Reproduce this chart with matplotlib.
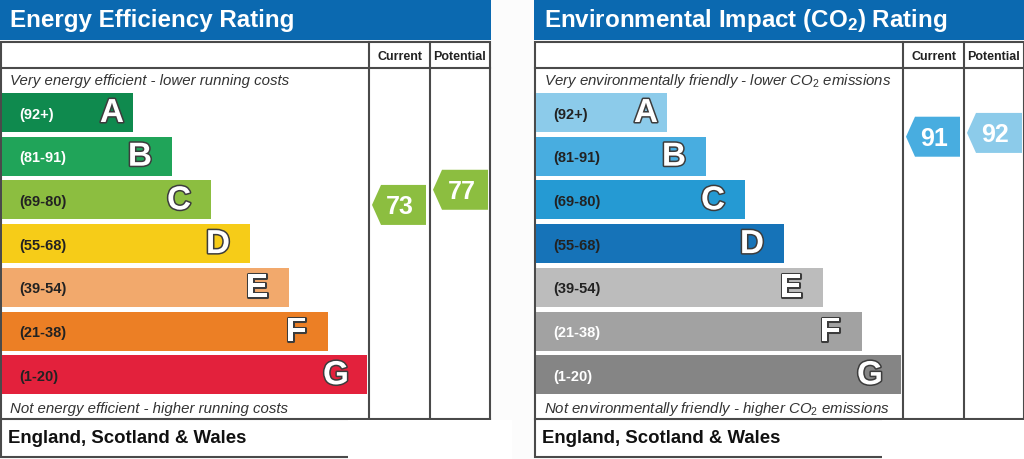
import matplotlib
matplotlib.use("Agg")
import matplotlib.pyplot as plt
import matplotlib.patheffects as pe
from matplotlib.patches import Rectangle, Polygon

plt.rcParams["mathtext.fontset"] = "custom"
plt.rcParams["mathtext.rm"] = "Liberation Sans"
plt.rcParams["mathtext.it"] = "Liberation Sans:italic"
plt.rcParams["mathtext.bf"] = "Liberation Sans:bold"

# ---------------------------------------------------------------------------
# data
# ---------------------------------------------------------------------------
bands = ["A", "B", "C", "D", "E", "F", "G"]
band_ranges = ["(92+)", "(81-91)", "(69-80)", "(55-68)", "(39-54)", "(21-38)", "(1-20)"]
band_lower = [92, 81, 69, 55, 39, 21, 1]

ee_title = "Energy Efficiency Rating"
ee_top = "Very energy efficient - lower running costs"
ee_bottom = "Not energy efficient - higher running costs"
ee_current = 73
ee_potential = 77

ei_title = r"Environmental Impact (CO$_{\mathbf{2}}$) Rating"
ei_top = r"Very environmentally friendly - lower CO$_{\mathrm{2}}$ emissions"
ei_bottom = r"Not environmentally friendly - higher CO$_{\mathrm{2}}$ emissions"
ei_current = 91
ei_potential = 92

region = "England, Scotland & Wales"

# ---------------------------------------------------------------------------
# styles
# ---------------------------------------------------------------------------
EE_COLORS = ["#0f8a4e", "#20a459", "#8cbe40", "#f6cc18", "#f2a96c", "#ec7f25", "#e3213c"]
EE_RANGE_TXT = ["white", "white", "#222", "#222", "#222", "#222", "#222"]
EI_COLORS = ["#8ccbea", "#48ade0", "#259ad3", "#1673b8", "#bcbcbc", "#a2a2a2", "#858585"]
EI_RANGE_TXT = ["#222", "#222", "#222", "#222", "#222", "white", "white"]
HEADER_BLUE = "#0b69b0"
FRAME = "#4a4a4a"
FONT = ["Liberation Sans", "DejaVu Sans"]

# layout (pixels, panel-relative)
PANEL_W = 490
COL1, COL2 = 369, 430
BAR_TOP0, BAR_PITCH, BAR_H = 94, 43.7, 39
BAR_LEN0, BAR_STEP = 131, 39
LETTER_PAD = [21, 32, 32, 32, 32, 32, 31]


def rating_y(r):
    # vertical scale of the rating arrows
    return 482.6 - 3.79 * r


def band_of(r):
    for i, lo in enumerate(band_lower):
        if r >= lo:
            return i
    return len(bands) - 1


def arrow(ax, x0, x1, yc, value, color):
    h = 40
    tip = 9
    pts = [(x1, yc - h / 2), (x0 + tip, yc - h / 2), (x0, yc),
           (x0 + tip, yc + h / 2), (x1, yc + h / 2)]
    ax.add_patch(Polygon(pts, closed=True, facecolor=color, edgecolor="none", zorder=4))
    ax.text((x0 + x1) / 2 + 1, yc + 1, str(value), color="white", fontsize=18,
            fontweight="bold", family=FONT, ha="center", va="center", zorder=5)


def draw_panel(ax, x0, title, top, bottom, colors, range_txt, current, potential):
    # header
    ax.add_patch(Rectangle((x0, 0), 1024 - x0 if x0 > 0 else 491, 41,
                           facecolor=HEADER_BLUE, edgecolor="none"))
    ax.text(x0 + 10, 21, title, color="white", fontsize=17.4, fontweight="bold",
            family=FONT, ha="left", va="center")

    # frame
    lw = 1.5
    ax.add_patch(Rectangle((x0 + 1, 43), PANEL_W - 1, 415, facecolor="white",
                           edgecolor=FRAME, lw=lw, zorder=1))
    ax.plot([x0 + 1, x0 + PANEL_W], [69, 69], color=FRAME, lw=lw, zorder=2)
    ax.plot([x0 + 1, x0 + PANEL_W], [420, 420], color=FRAME, lw=lw, zorder=2)
    for cx in (COL1, COL2):
        ax.plot([x0 + cx, x0 + cx], [43, 420], color=FRAME, lw=lw, zorder=2)

    ax.text(x0 + (COL1 + COL2) / 2, 57, "Current", fontsize=9, fontweight="bold",
            family=FONT, color="#222", ha="center", va="center")
    ax.text(x0 + (COL2 + PANEL_W) / 2, 57, "Potential", fontsize=9, fontweight="bold",
            family=FONT, color="#222", ha="center", va="center")

    ax.text(x0 + 10, 81, top, fontsize=10.8, style="italic", family=FONT,
            color="#333", ha="left", va="center")
    ax.text(x0 + 10, 409, bottom, fontsize=10.8, style="italic", family=FONT,
            color="#333", ha="left", va="center")

    # bands
    for i, (b, rng) in enumerate(zip(bands, band_ranges)):
        y = BAR_TOP0 + i * BAR_PITCH
        length = BAR_LEN0 + i * BAR_STEP
        ax.add_patch(Rectangle((x0 + 2, y), length, BAR_H, facecolor=colors[i],
                               edgecolor="none", zorder=3))
        ax.text(x0 + 19, y + BAR_H / 2 + 1, rng, fontsize=10.5, fontweight="bold",
                family=FONT, color=range_txt[i], ha="left", va="center", zorder=4)
        ax.text(x0 + 2 + length - LETTER_PAD[i], y + BAR_H / 2 + 1, b, fontsize=24,
                fontweight="bold", family=FONT, color="white", ha="center",
                va="center", zorder=4,
                path_effects=[pe.withStroke(linewidth=2.2, foreground="#3c3c3c")])

    # rating arrows
    arrow(ax, x0 + COL1 + 3, x0 + COL2 - 4, rating_y(current), current,
          colors[band_of(current)])
    arrow(ax, x0 + COL2 + 3, x0 + PANEL_W - 2, rating_y(potential), potential,
          colors[band_of(potential)])

    # footer
    ax.text(x0 + 8, 439, region, fontsize=13.4, fontweight="bold", family=FONT,
            color="#111", ha="left", va="center", zorder=3)
    ax.add_patch(Rectangle((x0 + 348, 421), 164, 40, facecolor="white",
                           edgecolor="none", zorder=6))


fig = plt.figure(figsize=(10.24, 4.6), dpi=100)
fig.patch.set_facecolor("#fcfcfc")
ax = fig.add_axes([0, 0, 1, 1])
ax.set_xlim(0, 1024)
ax.set_ylim(460, 0)
ax.axis("off")

draw_panel(ax, 0, ee_title, ee_top, ee_bottom, EE_COLORS, EE_RANGE_TXT,
           ee_current, ee_potential)
draw_panel(ax, 534, ei_title, ei_top, ei_bottom, EI_COLORS, EI_RANGE_TXT,
           ei_current, ei_potential)

fig.savefig("out.png", dpi=100, facecolor=fig.get_facecolor())
